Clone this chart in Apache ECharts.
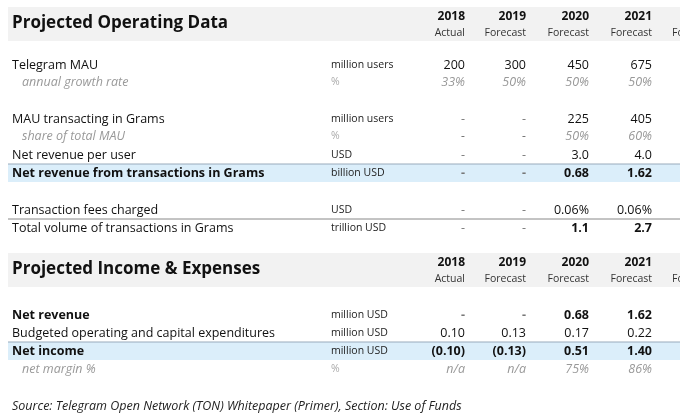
<!DOCTYPE html>
<html>
<head>
<meta charset="utf-8">
<title>Projected Operating Data</title>
<script src="https://cdn.jsdelivr.net/npm/echarts@6/dist/echarts.min.js"></script>
<style>html,body{margin:0;background:#fff}#chart{width:680px;height:416px}</style>
</head>
<body>
<div id="chart"></div>
<script>
var years = ['2018', '2019', '2020', '2021'];
var yearTypes = ['Actual', 'Forecast', 'Forecast', 'Forecast'];

// section 1
var opLabels = ['Telegram MAU', 'annual growth rate', 'MAU transacting in Grams', 'share of total MAU',
    'Net revenue per user', 'Net revenue from transactions in Grams', 'Transaction fees charged',
    'Total volume of transactions in Grams'];
var opUnits = ['million users', '%', 'million users', '%', 'USD', 'billion USD', 'USD', 'trillion USD'];
var opValues = [
    ['200', '300', '450', '675'],
    ['33%', '50%', '50%', '50%'],
    ['-', '-', '225', '405'],
    ['-', '-', '50%', '60%'],
    ['-', '-', '3.0', '4.0'],
    ['-', '-', '0.68', '1.62'],
    ['-', '-', '0.06%', '0.06%'],
    ['-', '-', '1.1', '2.7']
];
var opKinds = ['normal', 'sub', 'normal', 'sub', 'normal', 'highlight', 'normal', 'total'];

// section 2
var incLabels = ['Net revenue', 'Budgeted operating and capital expenditures', 'Net income', 'net margin %'];
var incUnits = ['million USD', 'million USD', 'million USD', '%'];
var incValues = [
    ['-', '-', '0.68', '1.62'],
    ['0.10', '0.13', '0.17', '0.22'],
    ['(0.10)', '(0.13)', '0.51', '1.40'],
    ['n/a', 'n/a', '75%', '86%']
];
var incKinds = ['boldrow', 'normal', 'highlight', 'sub'];

var source = 'Source: Telegram Open Network (TON) Whitepaper (Primer), Section: Use of Funds';

var FONT = '"Open Sans", Lato, sans-serif';
var colX = [465, 526, 589, 652];
var els = [];

function txt(x, y, s, o) {
    o = o || {};
    els.push({
        type: 'text', x: x, y: y, silent: true,
        style: {
            text: s, fill: o.fill || '#111', fontSize: o.size || 12.5, fontFamily: FONT,
            fontWeight: o.bold ? 'bold' : 'normal', fontStyle: o.italic ? 'italic' : 'normal',
            textAlign: o.align || 'left', textVerticalAlign: 'middle'
        }
    });
}
function rect(x, y, w, h, c) {
    els.push({ type: 'rect', shape: { x: x, y: y, width: w, height: h }, style: { fill: c }, silent: true });
}
function hline(y, c) {
    els.push({ type: 'line', shape: { x1: 8, y1: y, x2: 680, y2: y }, style: { stroke: c, lineWidth: 1 }, silent: true });
}

function header(top, title) {
    rect(8, top, 672, 34, '#f2f2f2');
    txt(12, top + 16, title, { bold: true, size: 17 });
    years.forEach(function (y, i) {
        txt(colX[i], top + 10, y, { bold: true, size: 12, align: 'right' });
        txt(colX[i], top + 26, yearTypes[i], { size: 10.5, fill: '#333', align: 'right' });
    });
    txt(672, top + 26, 'Forecast', { size: 10.5, fill: '#333' });
}

function rows(ys, labels, units, values, kinds) {
    labels.forEach(function (lab, r) {
        var k = kinds[r], y = ys[r];
        var sub = k === 'sub', bold = k === 'highlight' || k === 'boldrow';
        if (k === 'highlight') { rect(8, y - 9, 672, 18, '#dbeefa'); hline(y - 9, '#9ab'); }
        if (k === 'total') hline(y - 9, '#888');
        var c = sub ? '#999' : '#111';
        txt(sub ? 22 : 12, y, lab, { italic: sub, bold: bold, fill: c, size: 12.5 });
        txt(331, y, units[r], { fill: sub ? '#aaa' : '#222', size: 10.5 });
        values[r].forEach(function (v, i) {
            var vb = bold || (k === 'total' && v !== '-');
            txt(colX[i], y, v, { align: 'right', italic: sub, bold: vb, fill: v === '-' ? '#777' : c, size: 12.5 });
        });
    });
}

header(7, 'Projected Operating Data');
rows([65, 82, 119, 136, 155, 173, 210, 228], opLabels, opUnits, opValues, opKinds);
header(253, 'Projected Income & Expenses');
rows([315, 333, 351, 369], incLabels, incUnits, incValues, incKinds);
txt(12, 406, source, { italic: true, size: 12.5, fill: '#222' });

var chart = echarts.init(document.getElementById('chart'));
chart.setOption({ animation: false, graphic: { elements: els } });
</script>
</body>
</html>
